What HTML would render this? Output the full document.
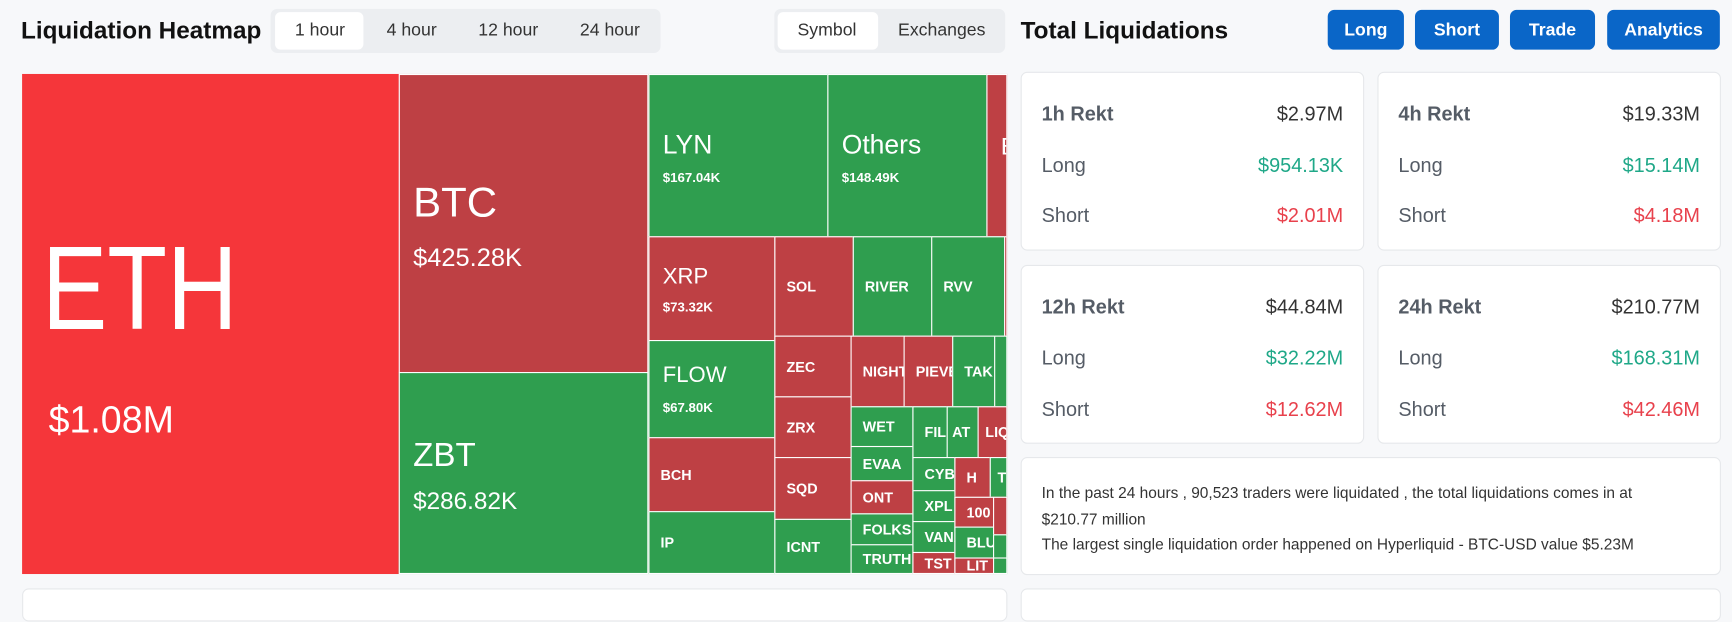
<!DOCTYPE html>
<html><head><meta charset="utf-8"><style>
html,body{margin:0;padding:0;background:#f7f8fa;overflow:hidden}
body{width:1732px;height:595px}
#w{position:absolute;left:0;top:0;width:1568px;height:539px;transform:scale(1.10459,1.10390);transform-origin:0 0;font-family:"Liberation Sans",sans-serif}
.a{position:absolute}
.c{position:absolute;box-sizing:border-box;border:1px solid #fff;color:#fff;overflow:hidden;white-space:nowrap}
.r{background:#be4044}.g{background:#2f9e4f}
.s{font-size:13px;font-weight:bold;display:flex;align-items:center;padding-left:10px}
.card{position:absolute;background:#fff;border:1px solid #e6e8eb;border-radius:6px;box-sizing:border-box}
.row{position:absolute;left:18px;right:18px;font-size:18px;display:flex;justify-content:space-between;color:#555c66}
.btn{position:absolute;top:9px;height:36px;background:#0a66c8;color:#fff;border-radius:6px;font-weight:bold;font-size:16px;display:flex;align-items:center;justify-content:center;padding-top:2px;box-sizing:border-box}
.tab{position:absolute;font-size:16px;color:#333;top:19px}
</style></head><body><div id="w">
<div class="a" style="left:19px;top:15px;font-size:22px;font-weight:bold;color:#111">Liquidation Heatmap</div>
<div class="a" style="left:245px;top:8px;width:353px;height:40px;background:#eceef1;border-radius:6px"></div>
<div class="a" style="left:249px;top:11px;width:80px;height:34px;background:#fff;border-radius:5px"></div>
<div class="tab" style="left:267px">1 hour</div>
<div class="tab" style="left:350px">4 hour</div>
<div class="tab" style="left:433px">12 hour</div>
<div class="tab" style="left:525px">24 hour</div>
<div class="a" style="left:701px;top:8px;width:209px;height:40px;background:#eceef1;border-radius:6px"></div>
<div class="a" style="left:704px;top:11px;width:91px;height:34px;background:#fff;border-radius:5px"></div>
<div class="tab" style="left:722px">Symbol</div>
<div class="tab" style="left:813px">Exchanges</div>
<div class="a" style="left:924px;top:15px;font-size:22px;font-weight:bold;color:#111">Total Liquidations</div>
<div class="btn" style="left:1202px;width:69px">Long</div>
<div class="btn" style="left:1281px;width:76px">Short</div>
<div class="btn" style="left:1367px;width:77px">Trade</div>
<div class="btn" style="left:1455px;width:102px">Analytics</div>

<div class="c" style="left:20px;top:67px;width:341px;height:453px;background:#f5363a;border:none">
 <div class="a" style="left:18px;top:140px;font-size:108px;line-height:108px;transform:scaleX(0.82);transform-origin:0 0">ETH</div>
 <div class="a" style="left:24px;top:295px;font-size:34px">$1.08M</div></div>
<div class="c r" style="left:361px;top:67px;width:226px;height:271px">
 <div class="a" style="left:12px;top:95px;font-size:38px">BTC</div>
 <div class="a" style="left:12px;top:152px;font-size:23px">$425.28K</div></div>
<div class="c g" style="left:361px;top:337px;width:226px;height:183px">
 <div class="a" style="left:12px;top:58px;font-size:30px">ZBT</div>
 <div class="a" style="left:12px;top:103px;font-size:22px">$286.82K</div></div>
<div class="c g" style="left:587px;top:67px;width:163px;height:148px">
 <div class="a" style="left:12px;top:50px;font-size:24px">LYN</div>
 <div class="a" style="left:12px;top:86px;font-size:12px;font-weight:bold">$167.04K</div></div>
<div class="c g" style="left:749px;top:67px;width:145px;height:148px">
 <div class="a" style="left:12px;top:50px;font-size:24px">Others</div>
 <div class="a" style="left:12px;top:86px;font-size:12px;font-weight:bold">$148.49K</div></div>
<div class="c r" style="left:893px;top:67px;width:19px;height:148px"><div class="a" style="left:12px;top:52px;font-size:22px">B</div></div>
<div class="c r" style="left:587px;top:214px;width:115px;height:95px">
 <div class="a" style="left:12px;top:25px;font-size:20px">XRP</div>
 <div class="a" style="left:12px;top:56px;font-size:12px;font-weight:bold">$73.32K</div></div>
<div class="c g" style="left:587px;top:308px;width:115px;height:89px">
 <div class="a" style="left:12px;top:20px;font-size:20px">FLOW</div>
 <div class="a" style="left:12px;top:53px;font-size:12px;font-weight:bold">$67.80K</div></div>
<div class="c r s" style="left:587px;top:396px;width:115px;height:68px">BCH</div>
<div class="c g s" style="left:587px;top:463px;width:115px;height:57px">IP</div>
<div class="c r s" style="left:701px;top:214px;width:72px;height:91px">SOL</div>
<div class="c g s" style="left:772px;top:214px;width:72px;height:91px">RIVER</div>
<div class="c g s" style="left:843px;top:214px;width:67px;height:91px">RVV</div>
<div class="c r" style="left:909px;top:214px;width:3px;height:91px"></div>
<div class="c r s" style="left:701px;top:304px;width:70px;height:56px">ZEC</div>
<div class="c r s" style="left:701px;top:359px;width:70px;height:56px">ZRX</div>
<div class="c r s" style="left:701px;top:414px;width:70px;height:57px">SQD</div>
<div class="c g s" style="left:701px;top:470px;width:70px;height:50px">ICNT</div>
<div class="c r s" style="left:770px;top:304px;width:49px;height:65px">NIGHT</div>
<div class="c r s" style="left:818px;top:304px;width:45px;height:65px">PIEVE</div>
<div class="c g s" style="left:862px;top:304px;width:39px;height:65px">TAK</div>
<div class="c g" style="left:900px;top:304px;width:12px;height:65px"></div>
<div class="c g s" style="left:770px;top:368px;width:57px;height:37px">WET</div>
<div class="c g s" style="left:770px;top:404px;width:57px;height:32px">EVAA</div>
<div class="c r s" style="left:770px;top:435px;width:57px;height:31px">ONT</div>
<div class="c g s" style="left:770px;top:465px;width:57px;height:29px">FOLKS</div>
<div class="c g s" style="left:770px;top:493px;width:57px;height:27px">TRUTH</div>
<div class="c g s" style="left:826px;top:368px;width:32px;height:47px">FIL</div>
<div class="c g s" style="left:857px;top:368px;width:29px;height:47px;padding-left:4px">AT</div>
<div class="c r s" style="left:885px;top:368px;width:27px;height:47px;padding-left:6px">LIQ</div>
<div class="c g s" style="left:826px;top:414px;width:39px;height:31px">CYBER</div>
<div class="c r s" style="left:864px;top:414px;width:33px;height:37px">H</div>
<div class="c g s" style="left:896px;top:414px;width:16px;height:37px;padding-left:6px">T</div>
<div class="c g s" style="left:826px;top:444px;width:39px;height:29px">XPL</div>
<div class="c g s" style="left:826px;top:472px;width:39px;height:29px">VANA</div>
<div class="c r s" style="left:826px;top:500px;width:39px;height:20px">TST</div>
<div class="c r s" style="left:864px;top:450px;width:36px;height:28px">100</div>
<div class="c g s" style="left:864px;top:477px;width:36px;height:29px">BLUR</div>
<div class="c r s" style="left:864px;top:505px;width:36px;height:15px">LIT</div>
<div class="c r" style="left:899px;top:450px;width:13px;height:35px"></div>
<div class="c g" style="left:899px;top:484px;width:13px;height:22px"></div>
<div class="c g" style="left:899px;top:505px;width:13px;height:15px"></div>

<div class="card" style="left:924px;top:65px;width:311px;height:162px">
 <div class="row" style="top:27px"><span style="font-weight:bold">1h Rekt</span><span style="color:#333">$2.97M</span></div>
 <div class="row" style="top:74px"><span>Long</span><span style="color:#1fa888">$954.13K</span></div>
 <div class="row" style="top:119px"><span>Short</span><span style="color:#e8414c">$2.01M</span></div></div>
<div class="card" style="left:1247px;top:65px;width:311px;height:162px">
 <div class="row" style="top:27px"><span style="font-weight:bold">4h Rekt</span><span style="color:#333">$19.33M</span></div>
 <div class="row" style="top:74px"><span>Long</span><span style="color:#1fa888">$15.14M</span></div>
 <div class="row" style="top:119px"><span>Short</span><span style="color:#e8414c">$4.18M</span></div></div>
<div class="card" style="left:924px;top:240px;width:311px;height:162px">
 <div class="row" style="top:27px"><span style="font-weight:bold">12h Rekt</span><span style="color:#333">$44.84M</span></div>
 <div class="row" style="top:73px"><span>Long</span><span style="color:#1fa888">$32.22M</span></div>
 <div class="row" style="top:120px"><span>Short</span><span style="color:#e8414c">$12.62M</span></div></div>
<div class="card" style="left:1247px;top:240px;width:311px;height:162px">
 <div class="row" style="top:27px"><span style="font-weight:bold">24h Rekt</span><span style="color:#333">$210.77M</span></div>
 <div class="row" style="top:73px"><span>Long</span><span style="color:#1fa888">$168.31M</span></div>
 <div class="row" style="top:120px"><span>Short</span><span style="color:#e8414c">$42.46M</span></div></div>
<div class="card" style="left:924px;top:414px;width:634px;height:107px">
 <div class="a" style="left:18px;top:20px;font-size:14px;line-height:23.5px;color:#333;width:580px">In the past 24 hours , 90,523 traders were liquidated , the total liquidations comes in at $210.77 million<br>The largest single liquidation order happened on Hyperliquid - BTC-USD value $5.23M</div></div>
<div class="card" style="left:20px;top:533px;width:892px;height:30px"></div>
<div class="card" style="left:924px;top:533px;width:634px;height:30px"></div>
</div></body></html>
